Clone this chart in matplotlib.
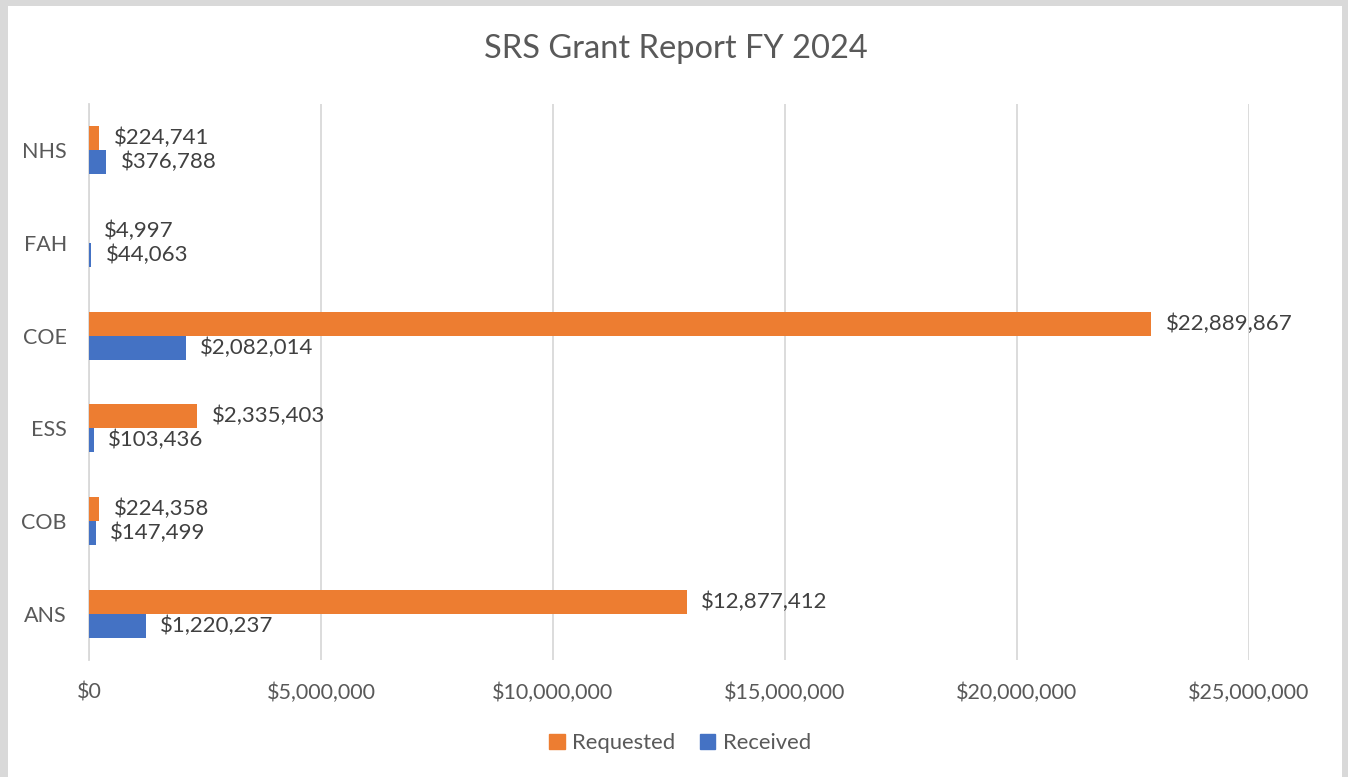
import matplotlib
matplotlib.use("Agg")
import matplotlib.pyplot as plt
from matplotlib.patches import Rectangle, Patch
from matplotlib.ticker import FuncFormatter
import numpy as np

categories = ["ANS", "COB", "ESS", "COE", "FAH", "NHS"]
requested = [12877412, 224358, 2335403, 22889867, 4997, 224741]
received = [1220237, 147499, 103436, 2082014, 44063, 376788]
xticks = [0, 5000000, 10000000, 15000000, 20000000, 25000000]

ORANGE = "#ED7D31"
BLUE = "#4472C4"
TXT = "#595959"
plt.rcParams['font.family'] = ['Lato', 'DejaVu Sans']

W, H = 1348, 777
fig = plt.figure(figsize=(W / 100, H / 100), dpi=100)
fig.patch.set_facecolor("#d9d9d9")
fig.add_artist(Rectangle((8 / W, 0), (1342 - 8) / W, (H - 6) / H,
                         transform=fig.transFigure, facecolor="white",
                         edgecolor="none", zorder=0))

left, right = 89, 1249
top, bottom = 104, 660
ax = fig.add_axes([left / W, 1 - bottom / H, (right - left) / W, (bottom - top) / H])
ax.set_facecolor("none")

y = np.arange(len(categories))
h = 0.26
ax.barh(y + h / 2, requested, height=h, color=ORANGE, label="Requested", zorder=3)
ax.barh(y - h / 2, received, height=h, color=BLUE, label="Received", zorder=3)

for yi, v in zip(y, requested):
    ax.annotate(f"${v:,.0f}", (v, yi + h / 2), xytext=(10.5, 0), textcoords="offset points",
                va="center", ha="left", fontsize=16, color="#404040")
for yi, v in zip(y, received):
    ax.annotate(f"${v:,.0f}", (v, yi - h / 2), xytext=(10.5, 0), textcoords="offset points",
                va="center", ha="left", fontsize=16, color="#404040")

ax.set_xlim(0, 25000000)
ax.set_ylim(-0.5, len(categories) - 0.5)
ax.set_xticks(xticks)
ax.xaxis.set_major_formatter(FuncFormatter(lambda v, p: f"${v:,.0f}"))
ax.set_yticks(y)
ax.set_yticklabels(categories)
ax.tick_params(axis="both", length=0, labelsize=15.5, colors=TXT)
ax.tick_params(axis="x", pad=16)
ax.tick_params(axis="y", pad=16)
ax.grid(axis="x", color="#d9d9d9", linewidth=1.3, zorder=0)
for s in ["top", "right", "bottom"]:
    ax.spines[s].set_visible(False)
ax.spines["left"].set_color("#d9d9d9")
ax.spines["left"].set_linewidth(1.3)

fig.text(676 / W, 1 - 49 / H, "SRS Grant Report FY 2024", ha="center", va="center",
         fontsize=23.5, color=TXT)
fig.legend(handles=[Patch(color=ORANGE, label="Requested"), Patch(color=BLUE, label="Received")],
           loc="center", bbox_to_anchor=(680 / W, 1 - 743 / H), ncol=2, frameon=False,
           fontsize=15.8, labelcolor=TXT, handlelength=0.7, handleheight=0.7,
           columnspacing=1.1, handletextpad=0.35)

fig.savefig("out.png", dpi=100, facecolor=fig.get_facecolor())
